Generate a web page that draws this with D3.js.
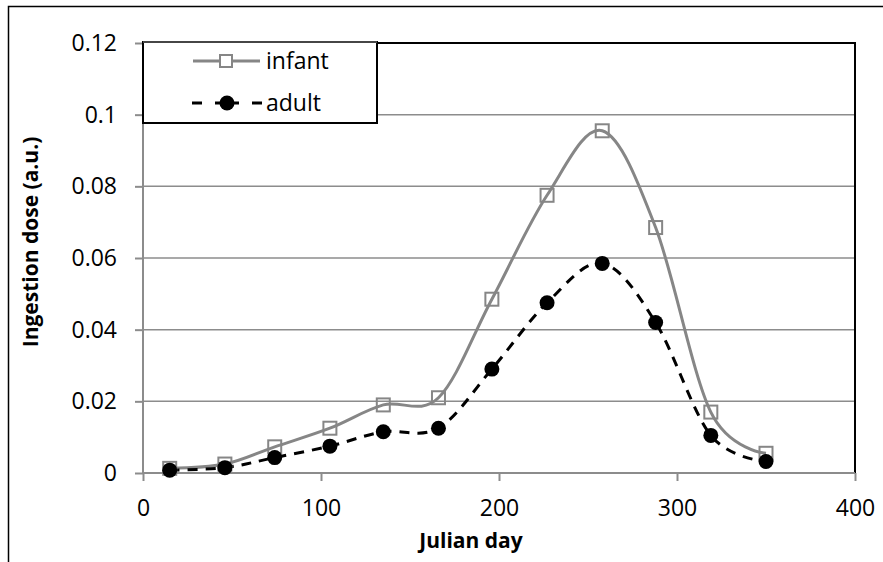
<!DOCTYPE html>
<html><head><meta charset="utf-8">
<script src="https://cdn.jsdelivr.net/npm/d3@7"></script>
<style>
body{margin:0;background:#fff;}
svg{display:block;font-family:"Open Sans",sans-serif;}
</style></head><body>
<svg id="c" width="883" height="562"></svg>
<script>
const days = [15, 46, 74, 105, 135, 166, 196, 227, 258, 288, 319, 350];
const infant = [0.0013, 0.0025, 0.0073, 0.0125, 0.019, 0.021, 0.0485, 0.0775, 0.0955, 0.0685, 0.017, 0.0055];
const adult = [0.0008, 0.0015, 0.0043, 0.0075, 0.0115, 0.0125, 0.029, 0.0475, 0.0585, 0.042, 0.0105, 0.0032];
const xTicks = [0, 100, 200, 300, 400];
const yTicks = [0, 0.02, 0.04, 0.06, 0.08, 0.1, 0.12];
const seriesNames = ["infant", "adult"];

const svg = d3.select("#c");
const L = 143, R = 855, T = 43, B = 473;
const x = d3.scaleLinear().domain([0, 400]).range([L, R]);
const y = d3.scaleLinear().domain([0, 0.12]).range([B, T]);

// outer chart border
svg.append("path").attr("d", `M8.5,562 V6.5 H883`).attr("fill", "none").attr("stroke", "#000").attr("stroke-width", 1.5);

// gridlines
svg.append("g").selectAll("line").data(yTicks.filter(d => d > 0 && d < 0.12)).join("line")
  .attr("x1", L).attr("x2", R).attr("y1", d => y(d)).attr("y2", d => y(d))
  .attr("stroke", "#8c8c8c").attr("stroke-width", 1.5);

// plot area border top/right
svg.append("path").attr("d", `M${L},${T} H${R} V${B}`).attr("fill", "none").attr("stroke", "#000").attr("stroke-width", 2);

// axes
const yAxis = d3.axisLeft(y).tickValues(yTicks).tickSize(8).tickPadding(18).tickFormat(d => d === 0 ? "0" : d3.format("")(+d.toFixed(2)));
const gy = svg.append("g").attr("transform", `translate(${L},0)`).call(yAxis);
const xAxis = d3.axisBottom(x).tickValues(xTicks).tickSize(8).tickPadding(19).tickFormat(d3.format("d"));
const gx = svg.append("g").attr("transform", `translate(0,${B})`).call(xAxis);
[gx, gy].forEach(g => {
  g.select(".domain").attr("stroke", "#8c8c8c").attr("stroke-width", 2);
  g.selectAll(".tick line").attr("stroke", "#8c8c8c").attr("stroke-width", 2);
  g.selectAll(".tick text").attr("font-family", "Open Sans").attr("font-size", 23).attr("fill", "#000");
});
gx.select(".domain").attr("d", `M${L},0H${R}`);
gy.select(".domain").attr("d", `M0,${B}V${T}`);

// axis titles
svg.append("text").attr("x", 471).attr("y", 548).attr("text-anchor", "middle")
  .attr("font-size", 21).attr("font-weight", "bold").text("Julian day");
svg.append("text").attr("transform", `translate(38,242) rotate(-90)`).attr("text-anchor", "middle")
  .attr("font-size", 21).attr("font-weight", "bold").text("Ingestion dose (a.u.)");

const line = d3.line().x(d => x(d[0])).y(d => y(d[1])).curve(d3.curveCardinal.tension(0));
const inf = days.map((d, i) => [d, infant[i]]);
const ad = days.map((d, i) => [d, adult[i]]);

svg.append("path").attr("d", line(inf)).attr("fill", "none").attr("stroke", "#868686").attr("stroke-width", 3);
svg.append("path").attr("d", line(ad)).attr("fill", "none").attr("stroke", "#000").attr("stroke-width", 3).attr("stroke-dasharray", "10,8");

svg.append("g").selectAll("rect").data(inf).join("rect")
  .attr("x", d => x(d[0]) - 6.5).attr("y", d => y(d[1]) - 6.5).attr("width", 13).attr("height", 13)
  .attr("fill", "none").attr("stroke", "#868686").attr("stroke-width", 2);
svg.append("g").selectAll("circle").data(ad).join("circle")
  .attr("cx", d => x(d[0])).attr("cy", d => y(d[1])).attr("r", 7.5).attr("fill", "#000");

// legend
const lg = svg.append("g");
lg.append("rect").attr("x", 143).attr("y", 42).attr("width", 234).attr("height", 81)
  .attr("fill", "#fff").attr("stroke", "#000").attr("stroke-width", 2);
lg.append("line").attr("x1", 143).attr("x2", 377).attr("y1", 42).attr("y2", 42).attr("stroke", "#8c8c8c").attr("stroke-width", 1);
lg.append("line").attr("x1", 193).attr("x2", 260).attr("y1", 61).attr("y2", 61).attr("stroke", "#868686").attr("stroke-width", 3);
lg.append("rect").attr("x", 220).attr("y", 55).attr("width", 12).attr("height", 12).attr("fill", "#fff").attr("stroke", "#868686").attr("stroke-width", 2);
lg.append("line").attr("x1", 192).attr("x2", 262).attr("y1", 103).attr("y2", 103).attr("stroke", "#000").attr("stroke-width", 3).attr("stroke-dasharray", "10,13,24,13,10");
lg.append("circle").attr("cx", 227).attr("cy", 103).attr("r", 7.5).attr("fill", "#000");
lg.selectAll("text.l").data(seriesNames).join("text").attr("class", "l")
  .attr("x", 266).attr("y", (d, i) => 69 + i * 42).attr("font-size", 23).text(d => d);
</script>
</body></html>
